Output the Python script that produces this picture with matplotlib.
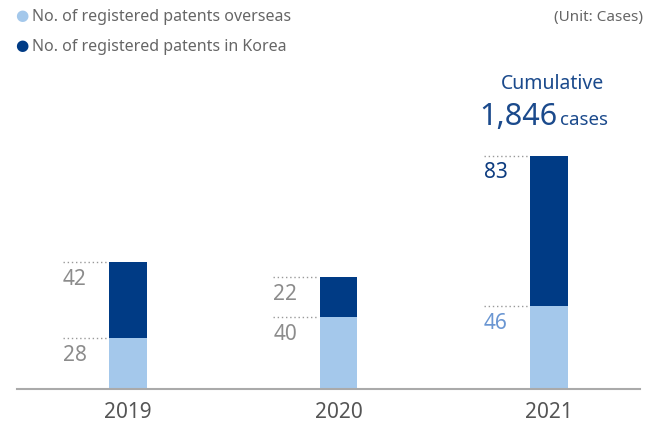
import matplotlib.pyplot as plt

years = ["2019", "2020", "2021"]
overseas = [28, 40, 46]
korea = [42, 22, 83]
total_text = "1,846"

light = "#a4c8eb"
dark = "#003b85"
grey = "#8c8c8c"

plt.rcParams['font.family'] = ['Noto Sans', 'DejaVu Sans']

fig = plt.figure(figsize=(6.47, 4.26), dpi=100)
ax = fig.add_axes([17/647, 1-389/426, (640-17)/647, (389-10)/426])

x = list(range(len(years)))
w = 0.18
ax.bar(x, overseas, width=w, color=light, zorder=2)
ax.bar(x, korea, width=w, bottom=overseas, color=dark, zorder=2)

ax.set_xlim(-0.527, 2.432)
ax.set_ylim(0, 379/1.81)

for s in ["top", "right", "left"]:
    ax.spines[s].set_visible(False)
ax.spines["bottom"].set_color("#aaaaaa")
ax.spines["bottom"].set_linewidth(1.5)
ax.set_yticks([])
ax.set_xticks(x)
ax.set_xticklabels(years, fontsize=15, color="#555555")
ax.tick_params(axis="x", length=0, pad=9)

lab_colors = [(grey, grey), (grey, grey), ("#6a96d2", "#0d3c80")]
for i in x:
    tops = [overseas[i], overseas[i] + korea[i]]
    vals = [overseas[i], korea[i]]
    for j in range(2):
        ax.plot([i - 0.31, i - 0.1], [tops[j], tops[j]], ls=(0, (1, 2)),
                color="#999999", lw=1, zorder=1)
        ax.annotate(str(vals[j]), (i - 0.31, tops[j]), xytext=(0, -5),
                    textcoords="offset points", ha="left", va="top",
                    fontsize=15, color=lab_colors[i][j],
                    fontweight="medium" if (i == 2 and j == 1) else "normal")

# legend
fig.text(22/647, 1-17/426, "\u25cf", color=light, fontsize=11, ha="center", va="center")
fig.text(32/647, 1-17/426, "No. of registered patents overseas", color="#666666",
         fontsize=11.5, va="center")
fig.text(22/647, 1-47/426, "\u25cf", color=dark, fontsize=11, ha="center", va="center")
fig.text(32/647, 1-47/426, "No. of registered patents in Korea", color="#666666",
         fontsize=11.5, va="center")
fig.text(643/647, 1-17/426, "(Unit: Cases)", color="#666666", fontsize=11,
         ha="right", va="center")

# cumulative
fig.text(553/647, 1-84/426, "Cumulative", color="#1b4a8c", fontsize=14,
         ha="center", va="center")
fig.text(557/647, 1-117/426, total_text, color="#1b4a8c", fontsize=22,
         fontweight="light", ha="right", va="center")
fig.text(560/647, 1-120/426, "cases", color="#1b4a8c", fontsize=13.5,
         ha="left", va="center")

fig.savefig("out.png", dpi=100)
